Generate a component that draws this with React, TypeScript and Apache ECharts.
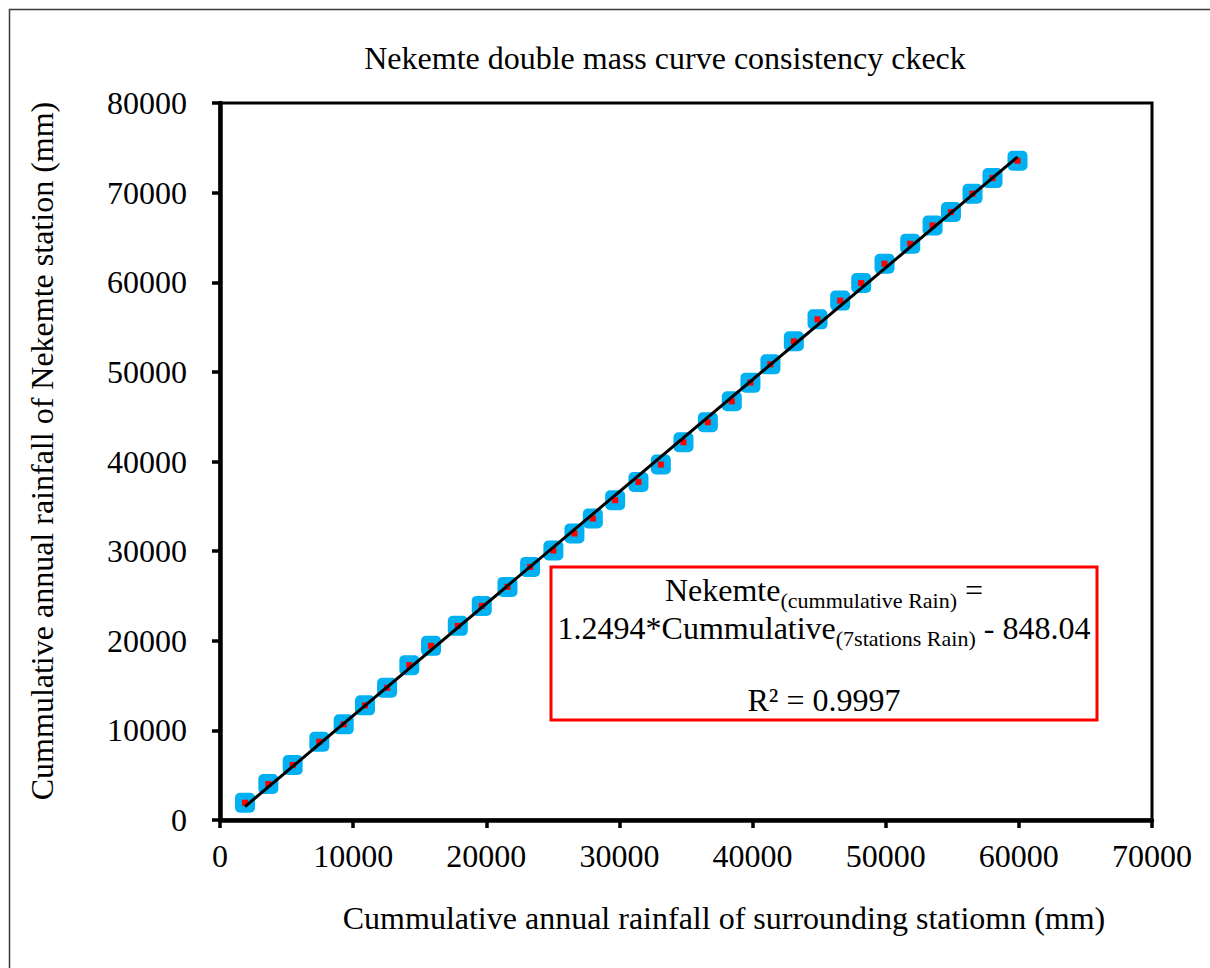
import React, { useEffect, useRef } from "react";
import * as echarts from "echarts";

// Cumulative annual rainfall (mm): mean of the 7 surrounding stations vs. Nekemte
const surroundingCum = [
  1880, 3630, 5460, 7460, 9290, 10890, 12550, 14220, 15850, 17860, 19660, 21590,
  23290, 25040, 26620, 28000, 29680, 31430, 33110, 34810, 36640, 38440, 39840,
  41340, 43100, 44880, 46580, 48160, 49910, 51840, 53520, 54900, 56520, 58020, 59900,
];
const nekemteCum = [
  1930, 4010, 6130, 8730, 10670, 12790, 14750, 17280, 19430, 21660, 23890, 26010,
  28240, 30070, 31970, 33640, 35680, 37720, 39660, 42150, 44380, 46720, 48800,
  50840, 53410, 55860, 57950, 59910, 62070, 64300, 66340, 67830, 69880, 71620, 73560,
];

// Linear trend fitted to the series
const trendSlope = 1.2494;
const trendIntercept = -848.04;
const rSquared = "0.9997";

const xTicks = { min: 0, max: 70000, interval: 10000 };
const yTicks = { min: 0, max: 80000, interval: 10000 };

const titleText = "Nekemte double mass curve consistency ckeck";
const xAxisTitle = "Cummulative annual rainfall of surrounding statiomn (mm)";
const yAxisTitle = "Cummulative annual rainfall of Nekemte station (mm)";

const FONT = "'Liberation Serif', 'Times New Roman', serif";
const FS = 32;

export default function App() {
  const ref = useRef<HTMLDivElement>(null);

  useEffect(() => {
    if (!ref.current) return;
    const chart = echarts.init(ref.current, undefined, { renderer: "svg" });

    const points = surroundingCum.map((x, i) => [x, nekemteCum[i]]);
    const xFirst = surroundingCum[0];
    const xLast = surroundingCum[surroundingCum.length - 1];
    const trend = [
      [xFirst, trendSlope * xFirst + trendIntercept],
      [xLast, trendSlope * xLast + trendIntercept],
    ];

    const richMain = { fontFamily: FONT, fontSize: FS, color: "#000", lineHeight: 40 };
    const richSub = {
      fontFamily: FONT,
      fontSize: 22,
      color: "#000",
      lineHeight: 40,
      padding: [20, 0, 0, 0],
    };
    const boxCx = 824;
    const plainNumber = (v: number) => String(v);

    chart.setOption({
      animation: false,
      backgroundColor: "#fff",
      grid: { left: 220, right: 58, top: 103, bottom: 148, show: true, borderColor: "#000", borderWidth: 3, backgroundColor: "transparent" },
      xAxis: {
        type: "value",
        min: xTicks.min,
        max: xTicks.max,
        interval: xTicks.interval,
        splitLine: { show: false },
        axisLine: { show: true, onZero: false, lineStyle: { color: "#000", width: 4.5 } },
        axisTick: { show: true, inside: false, length: 8, lineStyle: { color: "#000", width: 3.5 } },
        axisLabel: { color: "#000", fontFamily: FONT, fontSize: FS, margin: 20, formatter: plainNumber },
      },
      yAxis: {
        type: "value",
        min: yTicks.min,
        max: yTicks.max,
        interval: yTicks.interval,
        splitLine: { show: false },
        axisLine: { show: true, onZero: false, lineStyle: { color: "#000", width: 4.5 } },
        axisTick: { show: true, inside: false, length: 8, lineStyle: { color: "#000", width: 3.5 } },
        axisLabel: { color: "#000", fontFamily: FONT, fontSize: FS, margin: 33, formatter: plainNumber },
      },
      series: [
        {
          type: "scatter",
          data: points,
          symbol: "roundRect",
          symbolSize: 20,
          itemStyle: { color: "#00B0F0", opacity: 1 },
          z: 2,
        },
        {
          type: "scatter",
          data: points,
          symbol: "rect",
          symbolSize: 6,
          itemStyle: { color: "#FF0000", opacity: 1 },
          z: 3,
        },
        {
          type: "line",
          data: trend,
          symbol: "none",
          lineStyle: { color: "#000", width: 3 },
          z: 4,
        },
      ],
      graphic: [
        {
          type: "rect",
          silent: true,
          shape: { x: 9.5, y: 9.5, width: 1230, height: 990 },
          style: { fill: "none", stroke: "#3a3a3a", lineWidth: 1.5 },
        },
        {
          type: "text",
          x: 665,
          y: 58,
          style: { text: titleText, fontFamily: FONT, fontSize: FS, fill: "#000", align: "center", verticalAlign: "middle" },
        },
        {
          type: "text",
          x: 724,
          y: 918,
          style: { text: xAxisTitle, fontFamily: FONT, fontSize: FS, fill: "#000", align: "center", verticalAlign: "middle" },
        },
        {
          type: "text",
          x: 42,
          y: 451,
          rotation: Math.PI / 2,
          style: { text: yAxisTitle, fontFamily: FONT, fontSize: FS, fill: "#000", align: "center", verticalAlign: "middle" },
        },
        {
          type: "rect",
          shape: { x: 551, y: 567, width: 546, height: 153 },
          style: { fill: "#fff", stroke: "#FF0000", lineWidth: 3 },
          z: 10,
        },
        {
          type: "text",
          x: boxCx,
          y: 590,
          z: 11,
          style: {
            text: "{m|Nekemte}{s|(cummulative Rain)}{m| =}",
            align: "center",
            verticalAlign: "middle",
            rich: { m: richMain, s: richSub },
          },
        },
        {
          type: "text",
          x: boxCx,
          y: 628,
          z: 11,
          style: {
            text: "{m|1.2494*Cummulative}{s|(7stations Rain)}{m| - 848.04}",
            align: "center",
            verticalAlign: "middle",
            rich: { m: richMain, s: richSub },
          },
        },
        {
          type: "text",
          x: boxCx,
          y: 700,
          z: 11,
          style: {
            text: "R² = " + rSquared,
            fontFamily: FONT,
            fontSize: FS,
            fill: "#000",
            align: "center",
            verticalAlign: "middle",
          },
        },
      ],
    });

    return () => chart.dispose();
  }, []);

  return (
    <div
      ref={ref}
      style={{ position: "fixed", left: 0, top: 0, width: 1210, height: 968, background: "#fff" }}
    />
  );
}
